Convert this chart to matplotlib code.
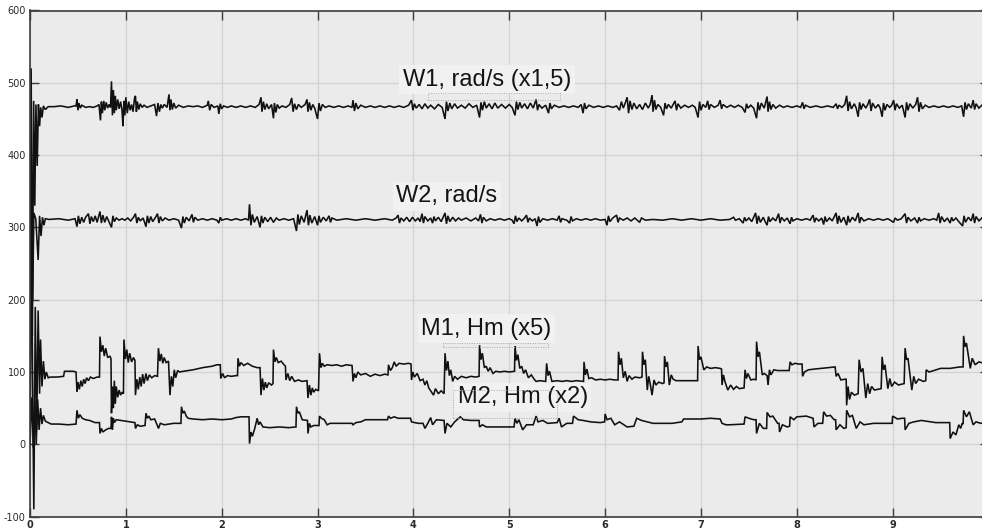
import matplotlib
matplotlib.use("Agg")
import matplotlib.pyplot as plt
from matplotlib.patches import Rectangle

plt.rcParams["axes.unicode_minus"] = False

# ---- data (time in s) ----
w1_t = [0, 0.012, 0.025, 0.038, 0.05, 0.062, 0.075, 0.088, 0.1, 0.112, 0.125, 0.14, 0.16, 0.19,
        0.25, 0.32, 0.40, 0.46, 0.48, 0.49, 0.50, 0.51, 0.525, 0.54, 0.58, 0.62, 0.66, 0.70,
        0.72, 0.735, 0.745, 0.755, 0.77, 0.78, 0.795, 0.81, 0.825, 0.84,
        0.85, 0.86, 0.87, 0.88, 0.89, 0.90, 0.915, 0.93, 0.945, 0.96, 0.97, 0.98, 0.99, 1.0,
        1.015, 1.03, 1.045, 1.06, 1.075, 1.09, 1.10, 1.11, 1.12, 1.135, 1.15, 1.17, 1.19, 1.22, 1.26,
        1.30, 1.32, 1.335, 1.35, 1.365, 1.38, 1.40, 1.43, 1.45, 1.46, 1.47, 1.485, 1.50, 1.52, 1.55,
        1.6, 1.65, 1.7, 1.75, 1.8, 1.85, 1.86, 1.875, 1.89, 1.92, 1.96, 1.97, 1.985, 2.0, 2.02,
        2.06, 2.1, 2.15, 2.2, 2.25, 2.3, 2.35, 2.39, 2.41, 2.42, 2.435, 2.45, 2.47, 2.49, 2.52,
        2.54, 2.55, 2.565, 2.58, 2.6, 2.63, 2.67, 2.71, 2.73, 2.745, 2.76, 2.78, 2.80, 2.83, 2.87,
        2.89, 2.90, 2.915, 2.93, 2.95, 2.97, 3.0, 3.015, 3.03, 3.05, 3.08, 3.12, 3.17, 3.22, 3.27,
        3.32, 3.36, 3.37, 3.385, 3.40, 3.42, 3.45, 3.5, 3.55, 3.6, 3.65, 3.7, 3.75, 3.8, 3.85, 3.9,
        3.95, 3.98, 3.995, 4.01, 4.03, 4.06, 4.09, 4.12, 4.15, 4.18, 4.22, 4.26, 4.30, 4.33, 4.345,
        4.36, 4.38, 4.40, 4.43, 4.46, 4.5, 4.54, 4.58, 4.62, 4.66, 4.69, 4.705, 4.72, 4.74, 4.76,
        4.79, 4.82, 4.85, 4.88, 4.92, 4.96, 5.0, 5.03, 5.06, 5.075, 5.09, 5.11, 5.13, 5.16, 5.19,
        5.22, 5.25, 5.28, 5.295, 5.31, 5.34, 5.38, 5.41, 5.425, 5.44, 5.47, 5.52, 5.57, 5.62, 5.67,
        5.72, 5.75, 5.77, 5.785, 5.80, 5.83, 5.88, 5.93, 5.98, 6.03, 6.08, 6.12, 6.15, 6.17, 6.19,
        6.21, 6.23, 6.245, 6.26, 6.28, 6.30, 6.33, 6.36, 6.39, 6.42, 6.45, 6.47, 6.49, 6.50, 6.515,
        6.53, 6.55, 6.58, 6.61, 6.625, 6.64, 6.66, 6.69, 6.71, 6.73, 6.745, 6.76, 6.79, 6.83, 6.87,
        6.91, 6.94, 6.97, 6.985, 7.0, 7.02, 7.05, 7.07, 7.085, 7.10, 7.14, 7.18, 7.20, 7.215, 7.23,
        7.27, 7.31, 7.35, 7.39, 7.43, 7.46, 7.475, 7.49, 7.52, 7.55, 7.58, 7.595, 7.61, 7.63, 7.66,
        7.69, 7.70, 7.715, 7.73, 7.75, 7.78, 7.82, 7.86, 7.9, 7.95, 8.0, 8.04, 8.06, 8.075, 8.09,
        8.14, 8.2, 8.26, 8.32, 8.38, 8.41, 8.425, 8.44, 8.47, 8.50, 8.52, 8.535, 8.55, 8.57, 8.60,
        8.62, 8.64, 8.655, 8.67, 8.69, 8.72, 8.74, 8.76, 8.775, 8.79, 8.82, 8.85, 8.87, 8.89, 8.905,
        8.92, 8.94, 8.97, 8.99, 9.01, 9.025, 9.04, 9.07, 9.10, 9.13, 9.145, 9.16, 9.18, 9.21, 9.24,
        9.26, 9.275, 9.29, 9.31, 9.34, 9.38, 9.43, 9.48, 9.53, 9.58, 9.63, 9.68, 9.72, 9.74, 9.755,
        9.77, 9.79, 9.82, 9.84, 9.855, 9.87, 9.90, 9.93, 9.96, 10.0]
w1_v = [0, 520, 150, 475, 330, 470, 385, 470, 440, 466, 452, 468, 463, 467,
        467, 468, 466, 468, 468, 477, 462, 472, 465, 469, 466, 467, 466, 468,
        470, 448, 474, 458, 475, 462, 473, 465, 470, 466,
        502, 455, 490, 458, 482, 462, 477, 464, 474, 462, 440, 475, 455, 480,
        458, 474, 462, 470, 460, 478, 482, 460, 474, 463, 471, 466, 469, 466, 468,
        470, 454, 472, 460, 470, 465, 470, 466, 484, 462, 477, 463, 472, 465, 469,
        466, 468, 467, 468, 466, 469, 475, 462, 470, 466, 468, 457, 471, 464, 468,
        466, 468, 466, 468, 466, 468, 466, 470, 480, 460, 474, 463, 471, 464, 470,
        451, 472, 459, 470, 465, 468, 466, 470, 479, 460, 471, 463, 470, 466, 470,
        477, 460, 473, 462, 470, 465, 450, 472, 461, 470, 466, 468, 466, 468, 466,
        468, 466, 476, 461, 472, 464, 469, 466, 468, 466, 468, 466, 468, 466, 468, 466,
        469, 476, 462, 471, 465, 470, 464, 471, 465, 469, 464, 470, 466, 450, 474,
        461, 472, 464, 471, 465, 469, 465, 471, 466, 469, 452, 473, 462, 474, 465,
        471, 464, 472, 465, 470, 465, 470, 466, 455, 474, 463, 473, 465, 471, 464,
        472, 465, 477, 462, 470, 465, 469, 458, 472, 464, 469, 466, 468, 466, 468,
        466, 470, 458, 472, 464, 469, 466, 468, 466, 468, 466, 468, 462, 474, 465,
        472, 480, 458, 475, 463, 472, 464, 470, 463, 472, 465, 470, 483, 460, 476,
        463, 470, 466, 455, 472, 464, 470, 465, 470, 475, 462, 471, 465, 469, 466,
        469, 466, 452, 474, 462, 470, 466, 475, 463, 470, 466, 469, 476, 464, 470,
        466, 469, 466, 469, 466, 459, 471, 465, 469, 465, 451, 473, 462, 472, 465,
        481, 460, 474, 463, 470, 465, 469, 466, 468, 466, 468, 466, 473, 464, 469,
        466, 468, 466, 468, 466, 471, 464, 469, 466, 470, 482, 461, 474, 464, 471,
        465, 453, 473, 463, 471, 465, 470, 477, 461, 472, 465, 470, 465, 453, 472,
        462, 470, 466, 469, 476, 462, 471, 465, 469, 452, 473, 462, 471, 465, 470,
        480, 460, 473, 464, 469, 466, 468, 466, 468, 466, 468, 466, 468, 453, 473,
        463, 471, 465, 476, 463, 471, 465, 469, 466, 468]

w2_t = [0, 0.015, 0.028, 0.04, 0.06, 0.085, 0.1, 0.115, 0.13, 0.145, 0.16,
        0.2, 0.3, 0.4, 0.47, 0.49, 0.505, 0.52, 0.54, 0.56, 0.58, 0.61, 0.625, 0.64, 0.66, 0.68,
        0.70, 0.73, 0.745, 0.76, 0.78, 0.80, 0.82, 0.85, 0.865, 0.88, 0.90, 0.93, 0.96, 0.99,
        1.02, 1.05, 1.08, 1.10, 1.115, 1.13, 1.15, 1.18, 1.21, 1.225, 1.24, 1.26, 1.28, 1.31,
        1.33, 1.345, 1.36, 1.38, 1.41, 1.45, 1.50, 1.55, 1.58, 1.595, 1.61, 1.63, 1.66, 1.69,
        1.705, 1.72, 1.75, 1.8, 1.85, 1.9, 1.95, 1.97, 1.985, 2.0, 2.05, 2.1, 2.15, 2.2, 2.25,
        2.28, 2.29, 2.305, 2.32, 2.34, 2.37, 2.40, 2.415, 2.43, 2.45, 2.48, 2.51, 2.54, 2.57,
        2.6, 2.65, 2.7, 2.75, 2.78, 2.795, 2.81, 2.83, 2.86, 2.89, 2.905, 2.92, 2.94, 2.97, 3.0,
        3.015, 3.03, 3.06, 3.09, 3.12, 3.135, 3.15, 3.2, 3.3, 3.4, 3.5, 3.6, 3.7, 3.78, 3.82,
        3.84, 3.855, 3.87, 3.9, 3.93, 3.96, 3.99, 4.02, 4.05, 4.07, 4.09, 4.105, 4.12, 4.15,
        4.18, 4.2, 4.215, 4.23, 4.26, 4.29, 4.31, 4.33, 4.345, 4.36, 4.38, 4.41, 4.44, 4.47,
        4.5, 4.55, 4.6, 4.65, 4.68, 4.70, 4.715, 4.73, 4.76, 4.8, 4.85, 4.9, 4.95, 5.0, 5.03,
        5.05, 5.065, 5.08, 5.1, 5.13, 5.16, 5.18, 5.195, 5.21, 5.24, 5.27, 5.29, 5.305, 5.32,
        5.35, 5.4, 5.45, 5.5, 5.52, 5.535, 5.55, 5.6, 5.63, 5.645, 5.66, 5.7, 5.75, 5.8, 5.85,
        5.9, 5.95, 6.0, 6.02, 6.035, 6.05, 6.08, 6.12, 6.135, 6.15, 6.19, 6.23, 6.27, 6.31,
        6.36, 6.38, 6.42, 6.5, 6.6, 6.7, 6.8, 6.9, 7.0, 7.1, 7.2, 7.3, 7.34, 7.36, 7.4, 7.44,
        7.455, 7.47, 7.5, 7.53, 7.57, 7.585, 7.60, 7.62, 7.65, 7.67, 7.69, 7.705, 7.72, 7.75,
        7.78, 7.81, 7.825, 7.84, 7.87, 7.90, 7.93, 7.945, 7.96, 8.0, 8.05, 8.1, 8.14, 8.17,
        8.185, 8.2, 8.23, 8.26, 8.28, 8.295, 8.31, 8.34, 8.37, 8.41, 8.425, 8.44, 8.46, 8.49,
        8.52, 8.535, 8.55, 8.58, 8.61, 8.64, 8.655, 8.67, 8.7, 8.75, 8.8, 8.85, 8.9, 8.95,
        9.01, 9.025, 9.05, 9.09, 9.13, 9.145, 9.16, 9.19, 9.23, 9.26, 9.275, 9.29, 9.33, 9.38,
        9.43, 9.46, 9.48, 9.495, 9.51, 9.54, 9.57, 9.60, 9.615, 9.63, 9.66, 9.69, 9.73, 9.745,
        9.76, 9.79, 9.82, 9.84, 9.855, 9.87, 9.9, 9.93, 9.97, 10.0]
w2_v = [0, 330, 200, 320, 312, 255, 316, 288, 314, 303, 312,
        311, 312, 310, 312, 301, 316, 305, 314, 307, 314, 319, 305, 315, 308, 316,
        307, 322, 306, 317, 307, 315, 309, 300, 316, 308, 313, 310, 312, 310,
        313, 309, 314, 319, 306, 314, 309, 313, 301, 316, 306, 315, 308, 314,
        319, 306, 315, 309, 313, 310, 312, 310, 299, 315, 306, 314, 309, 318,
        307, 314, 310, 312, 310, 312, 310, 306, 314, 310, 312, 310, 312, 310, 312,
        310, 332, 303, 318, 307, 315, 300, 316, 306, 314, 308, 314, 307, 313,
        310, 312, 310, 312, 295, 318, 304, 316, 307, 324, 303, 317, 306, 315, 303,
        316, 307, 314, 309, 316, 307, 313, 310, 312, 310, 312, 310, 312, 310, 313,
        317, 306, 313, 309, 314, 308, 314, 309, 313, 308, 319, 306, 315, 309,
        313, 306, 315, 309, 314, 308, 314, 320, 305, 316, 308, 314, 309, 313,
        310, 313, 309, 313, 309, 318, 306, 314, 309, 312, 310, 312, 310, 312, 310,
        305, 316, 308, 313, 309, 313, 317, 307, 313, 309, 312, 302, 315, 307,
        312, 310, 312, 310, 316, 307, 312, 310, 306, 315, 309, 312, 310, 312, 310,
        312, 310, 311, 303, 316, 308, 313, 317, 307, 313, 310, 313, 309, 313,
        307, 313, 310, 311, 310, 312, 310, 312, 310, 312, 310, 311, 314, 310, 312, 306,
        314, 309, 313, 308, 320, 305, 316, 307, 314, 308, 303, 315, 308, 313,
        309, 319, 306, 314, 309, 313, 305, 314, 309, 312, 310, 312, 310, 317,
        307, 313, 309, 313, 304, 315, 308, 313, 309, 320, 305, 316, 307, 314,
        303, 316, 307, 314, 309, 320, 306, 314, 309, 312, 310, 312, 310, 312,
        307, 313, 310, 312, 319, 306, 314, 309, 313, 306, 314, 309, 312, 310,
        312, 310, 320, 306, 315, 308, 313, 306, 314, 309, 313, 308, 302, 316,
        307, 314, 309, 319, 306, 315, 309, 313, 310, 312]

m1_t = [0, 0.015, 0.03, 0.04, 0.055, 0.07, 0.085, 0.1, 0.11, 0.125, 0.14, 0.155, 0.17, 0.19,
        0.21, 0.28, 0.35, 0.36, 0.45, 0.48, 0.49, 0.50, 0.515, 0.53, 0.545, 0.56, 0.575, 0.59,
        0.61, 0.63, 0.66, 0.70, 0.725, 0.73, 0.745, 0.76, 0.775, 0.79, 0.81, 0.835, 0.845,
        0.85, 0.86, 0.87, 0.88, 0.89, 0.90, 0.915, 0.93, 0.945, 0.96, 0.975,
        0.98, 0.995, 1.01, 1.025, 1.04, 1.06, 1.08, 1.095,
        1.10, 1.115, 1.13, 1.145, 1.16, 1.175, 1.19, 1.21, 1.225, 1.245, 1.27, 1.30, 1.33,
        1.34, 1.355, 1.37, 1.385, 1.40, 1.42, 1.445,
        1.46, 1.475, 1.49, 1.505, 1.52, 1.54, 1.56, 1.6, 1.7, 1.8, 1.9, 1.95, 1.985,
        1.99, 2.01, 2.03, 2.06, 2.1, 2.15, 2.165,
        2.17, 2.185, 2.2, 2.23, 2.27, 2.32, 2.37, 2.4,
        2.41, 2.425, 2.44, 2.455, 2.47, 2.49, 2.52, 2.535,
        2.54, 2.555, 2.57, 2.59, 2.62, 2.65, 2.665,
        2.67, 2.69, 2.71, 2.73, 2.76, 2.8, 2.84, 2.89,
        2.9, 2.915, 2.93, 2.945, 2.96, 2.98, 3.01,
        3.02, 3.035, 3.05, 3.07, 3.1, 3.15, 3.2, 3.25, 3.3, 3.36,
        3.37, 3.385, 3.40, 3.42, 3.45, 3.5, 3.55, 3.6, 3.65, 3.7, 3.735,
        3.74, 3.76, 3.78, 3.80, 3.82, 3.85, 3.9, 3.95, 3.975,
        3.98, 3.995, 4.01, 4.04, 4.07, 4.10, 4.12, 4.14, 4.16, 4.19, 4.21, 4.23, 4.26, 4.29, 4.32,
        4.33, 4.345, 4.36, 4.375, 4.39, 4.41, 4.43, 4.46, 4.5, 4.55, 4.6, 4.65, 4.685,
        4.69, 4.705, 4.72, 4.74, 4.76, 4.78, 4.8, 4.83, 4.86, 4.9, 4.95, 5.0, 5.055,
        5.06, 5.075, 5.09, 5.11, 5.13, 5.15, 5.17, 5.2, 5.23, 5.26, 5.28, 5.32, 5.38,
        5.39, 5.405, 5.42, 5.445, 5.5, 5.55, 5.6, 5.65, 5.7, 5.775,
        5.78, 5.795, 5.81, 5.83, 5.86, 5.9, 5.95, 6.0, 6.05, 6.1, 6.135,
        6.14, 6.155, 6.17, 6.19, 6.21, 6.23, 6.25, 6.28, 6.31, 6.36, 6.385,
        6.39, 6.405, 6.42, 6.44, 6.455, 6.47, 6.49, 6.51, 6.53, 6.56, 6.6, 6.615,
        6.62, 6.635, 6.65, 6.67, 6.69, 6.71, 6.74, 6.8, 6.9, 6.965,
        6.97, 6.985, 7.0, 7.03, 7.06, 7.1, 7.15, 7.2, 7.215,
        7.22, 7.235, 7.25, 7.28, 7.31, 7.34, 7.37, 7.40, 7.45,
        7.46, 7.475, 7.49, 7.52, 7.55, 7.575,
        7.58, 7.595, 7.61, 7.64, 7.66, 7.69,
        7.70, 7.715, 7.73, 7.76, 7.80, 7.85, 7.92,
        7.93, 7.95, 7.98, 8.02, 8.055,
        8.06, 8.08, 8.12, 8.18, 8.25, 8.32, 8.4,
        8.41, 8.43, 8.46, 8.5, 8.515,
        8.52, 8.535, 8.55, 8.57, 8.6, 8.64,
        8.65, 8.67, 8.69, 8.72, 8.74, 8.76, 8.78, 8.81, 8.88,
        8.89, 8.905, 8.92, 8.95, 8.97, 8.99, 9.02, 9.06, 9.12,
        9.13, 9.145, 9.16, 9.2, 9.22, 9.24, 9.27, 9.32, 9.345,
        9.35, 9.38, 9.43, 9.5, 9.6, 9.7, 9.735,
        9.74, 9.755, 9.77, 9.81, 9.83, 9.86, 9.9, 9.95, 10.0]
m1_v = [0, 300, 40, -90, 190, 20, 185, 70, 145, 80, 115, 90, 100, 92,
        93, 93, 94, 101, 101, 100, 73, 86, 76, 88, 80, 90, 84, 92,
        88, 93, 91, 93, 93, 149, 128, 137, 122, 133, 120, 122, 118,
        43, 80, 50, 88, 56, 80, 65, 75, 68, 72, 70,
        145, 118, 131, 113, 126, 114, 120, 116,
        68, 90, 76, 93, 80, 97, 84, 98, 88, 96, 92, 95, 94,
        133, 115, 125, 112, 120, 113, 115,
        68, 94, 80, 103, 92, 102, 100, 101, 103, 106, 108, 110, 110,
        91, 98, 92, 95, 94, 95, 95,
        119, 108, 113, 109, 112, 108, 106, 106,
        68, 91, 75, 86, 78, 85, 82, 84,
        131, 114, 120, 113, 115, 110, 108,
        89, 98, 88, 94, 87, 89, 87, 88,
        64, 82, 68, 78, 72, 76, 74,
        126, 106, 112, 108, 110, 109, 110, 108, 110, 109,
        87, 98, 92, 100, 96, 98, 94, 97, 95, 97, 96,
        110, 102, 106, 114, 108, 112, 111, 112, 111,
        89, 100, 93, 98, 88, 90, 82, 88, 78, 72, 68, 77, 70, 74, 70,
        126, 102, 115, 95, 103, 87, 94, 90, 94, 92, 94, 93, 94,
        137, 117, 126, 106, 108, 101, 106, 98, 101, 100, 101, 100, 101,
        136, 116, 124, 105, 108, 98, 103, 92, 96, 90, 87, 88, 87,
        112, 95, 101, 87, 88, 87, 88, 87, 88, 87,
        114, 96, 104, 91, 92, 89, 90, 89, 90, 89, 89,
        128, 110, 119, 92, 101, 87, 95, 90, 93, 92, 93,
        128, 110, 117, 75, 94, 84, 68, 89, 82, 86, 84, 85,
        122, 107, 114, 82, 96, 90, 88, 88, 88, 88,
        136, 117, 121, 103, 107, 105, 106, 105, 104,
        82, 96, 87, 75, 82, 76, 80, 77, 78,
        103, 91, 98, 89, 90, 89,
        142, 121, 128, 96, 98, 95,
        82, 103, 96, 103, 102, 102, 102,
        114, 110, 112, 111, 111,
        94, 100, 103, 104, 105, 106, 107,
        94, 98, 89, 90, 90,
        54, 80, 62, 72, 68, 70,
        117, 100, 105, 64, 84, 70, 80, 75, 77,
        121, 103, 110, 77, 91, 80, 86, 82, 84,
        133, 117, 119, 75, 94, 84, 90, 87, 88,
        103, 100, 102, 105, 105, 107, 107,
        150, 135, 140, 105, 119, 110, 114, 112, 113]

m2_t = [0, 0.02, 0.035, 0.05, 0.065, 0.08, 0.095, 0.11, 0.125, 0.14, 0.16, 0.19,
        0.22, 0.3, 0.4, 0.48, 0.49, 0.505, 0.52, 0.545, 0.58, 0.62, 0.68, 0.725,
        0.73, 0.745, 0.76, 0.79, 0.82, 0.845,
        0.85, 0.86, 0.87, 0.88, 0.9, 0.95, 1.0, 1.05, 1.095,
        1.10, 1.12, 1.15, 1.2, 1.21, 1.225, 1.24, 1.26, 1.3, 1.335,
        1.34, 1.36, 1.4, 1.45, 1.5, 1.575,
        1.58, 1.595, 1.61, 1.63, 1.65, 1.7, 1.8, 1.9, 2.0, 2.1, 2.15, 2.2, 2.285,
        2.29, 2.305, 2.32, 2.345, 2.37, 2.385, 2.4, 2.43, 2.5, 2.6, 2.7, 2.775,
        2.78, 2.795, 2.81, 2.84, 2.895, 2.9, 2.915, 2.93, 2.96, 3.015,
        3.02, 3.04, 3.07, 3.1, 3.13, 3.2, 3.3, 3.36,
        3.37, 3.4, 3.45, 3.5, 3.6, 3.73, 3.74, 3.76, 3.8, 3.84, 3.9, 3.97,
        3.98, 4.05, 4.1, 4.12, 4.15, 4.18, 4.2, 4.24, 4.32,
        4.33, 4.35, 4.39, 4.43, 4.49, 4.52, 4.6, 4.685,
        4.69, 4.72, 4.76, 4.9, 5.05, 5.06, 5.08, 5.1, 5.14, 5.18, 5.25,
        5.28, 5.3, 5.35, 5.4, 5.5, 5.52, 5.545, 5.6, 5.66,
        5.67, 5.72, 5.77, 5.85, 5.95, 5.995,
        6.0, 6.02, 6.06, 6.1, 6.15, 6.23, 6.3, 6.33, 6.38, 6.47,
        6.5, 6.6, 6.7, 6.8, 6.82, 6.9, 7.0, 7.1, 7.2,
        7.22, 7.26, 7.3, 7.45, 7.46, 7.5, 7.55, 7.575,
        7.58, 7.61, 7.65, 7.685, 7.69, 7.72, 7.75, 7.8, 7.815,
        7.82, 7.85, 7.9, 7.925, 7.93, 7.97, 8.0, 8.1, 8.17,
        8.18, 8.22, 8.27, 8.28, 8.31, 8.35, 8.39, 8.405,
        8.41, 8.45, 8.49, 8.515, 8.52, 8.55, 8.58, 8.62, 8.66, 8.7, 8.8, 8.9, 8.995,
        9.0, 9.05, 9.1, 9.125, 9.13, 9.17, 9.22, 9.3, 9.45, 9.595,
        9.6, 9.63, 9.66, 9.69, 9.71, 9.725, 9.735,
        9.74, 9.77, 9.8, 9.84, 9.87, 9.92, 10.0]
m2_v = [0, 65, -5, 60, 0, 62, 20, 50, 28, 40, 32, 30,
        28, 28, 27, 28, 47, 36, 41, 36, 34, 33, 30, 30,
        15, 22, 17, 20, 22, 22,
        38, 20, 36, 30, 34, 33, 32, 31, 30,
        22, 27, 25, 26, 43, 36, 39, 34, 35, 24,
        22, 29, 27, 28, 29, 29,
        52, 43, 46, 39, 36, 35, 34, 35, 34, 35, 37, 38, 38,
        1, 17, 11, 22, 36, 27, 31, 24, 23, 24, 23, 24,
        52, 43, 45, 34, 33, 15, 29, 24, 26, 26,
        39, 36, 34, 27, 29, 29, 29, 29,
        27, 30, 31, 34, 34, 34, 39, 36, 38, 36, 36, 36,
        31, 29, 29, 22, 29, 37, 27, 34, 33,
        15, 29, 24, 31, 38, 34, 33, 33,
        24, 27, 24, 24, 24, 36, 29, 34, 20, 27, 27,
        39, 31, 33, 29, 30, 36, 24, 29, 29,
        39, 34, 33, 31, 30, 31,
        42, 34, 36, 27, 31, 24, 25, 36, 33, 30,
        29, 29, 29, 31, 35, 35, 35, 36, 35,
        29, 27, 27, 28, 38, 36, 34, 34,
        15, 29, 22, 22, 44, 38, 39, 29, 29,
        17, 27, 24, 25, 38, 34, 38, 39, 36,
        24, 29, 29, 45, 39, 40, 34, 34,
        20, 27, 22, 23, 47, 38, 40, 22, 31, 27, 29, 29, 29,
        39, 35, 36, 36, 20, 29, 31, 33, 30, 30,
        8, 17, 13, 27, 22, 29, 28,
        47, 38, 45, 27, 31, 29, 30]

x_ticks = list(range(0, 10))
y_ticks = list(range(-100, 700, 100))

labels = ["W1, rad/s (x1,5)", "W2, rad/s", "M1, Hm (x5)", "M2, Hm (x2)"]
label_t = [4.77, 4.35, 4.76, 5.14]
label_v = [504, 343, 160, 65]

W, H = 982, 530
fig = plt.figure(figsize=(W / 100, H / 100), dpi=100)
fig.patch.set_facecolor("white")
# the scope's 0..10 s window runs a few pixels past the right edge of the picture
ax = fig.add_axes([30 / W, (H - 516.6) / H, 958.5 / W, (516.6 - 10.5) / H])
ax.set_facecolor("#ebebeb")

for t, v in [(w1_t, w1_v), (w2_t, w2_v), (m1_t, m1_v), (m2_t, m2_v)]:
    ax.plot(t, v, color="#111111", lw=1.15, solid_joinstyle="miter")

ax.set_xlim(0, 10)
ax.set_ylim(-100, 600)
ax.set_xticks(x_ticks)
ax.set_yticks(y_ticks)
ax.grid(True, color="#d3d3d3", lw=0.9)
ax.set_axisbelow(True)
for s in ax.spines.values():
    s.set_color("#3c3c3c")
    s.set_linewidth(1.2)
ax.tick_params(direction="in", length=6.5, width=1.0, color="#3c3c3c",
               top=True, right=True, labelsize=7, labelcolor="#2a2a2a")
ax.tick_params(axis="x", pad=2.5)
ax.tick_params(axis="y", pad=3)
for lab in ax.get_xticklabels():
    lab.set_fontweight("bold")

for txt, t, v in zip(labels, label_t, label_v):
    ax.text(t, v, txt, ha="center", va="center", fontsize=17,
            family=["Liberation Sans", "DejaVu Sans"], color="#141414",
            bbox=dict(boxstyle="square,pad=0.15", fc="#f1f1f1", ec="none"))

# faint dotted selection boxes left over under the labels (figure pixels)
for x0, y0, w, h in [(428, 93, 132, 7), (443, 343, 105, 4), (453, 390, 104, 28)]:
    fig.patches.append(Rectangle((x0 / W, 1 - (y0 + h) / H), w / W, h / H,
                                 transform=fig.transFigure, fill=False,
                                 ec="#a8a8a8", lw=0.7, ls=(0, (1, 1.5))))

fig.savefig("out.png", dpi=100)
